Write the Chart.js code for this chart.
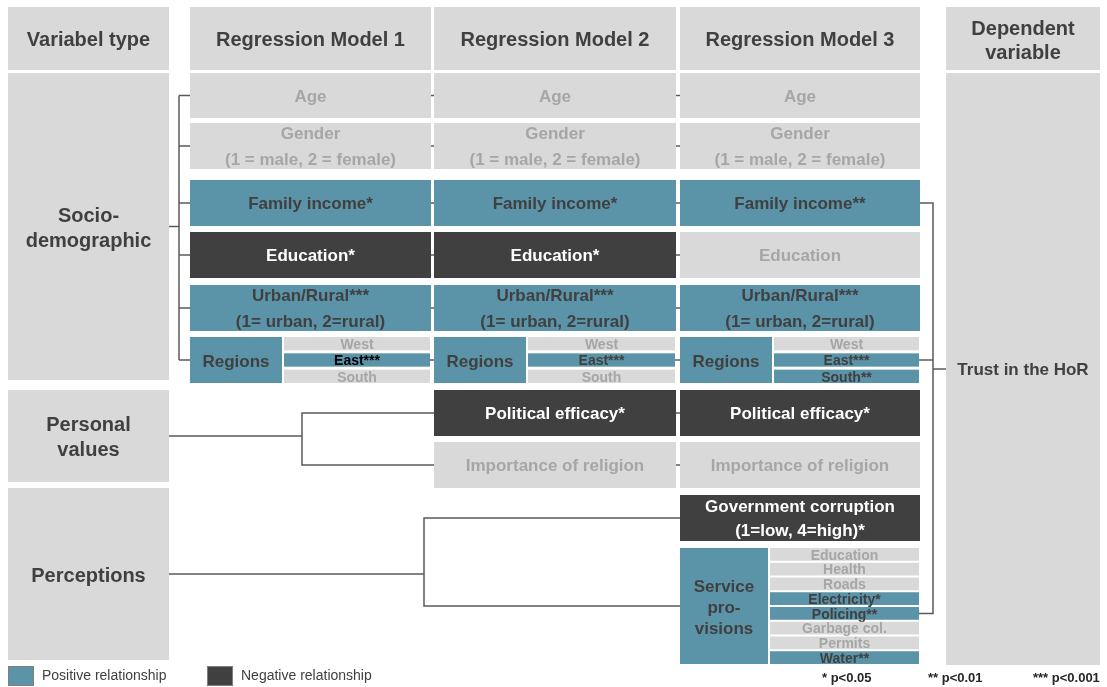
<!DOCTYPE html>
<html>
<head>
<meta charset="utf-8">
<script src="https://cdn.jsdelivr.net/npm/chart.js@4.4.1/dist/chart.umd.min.js"></script>
<style>
  html, body { margin: 0; padding: 0; background: #fff; }
  #wrap { width: 1107px; height: 687px; }
</style>
</head>
<body>
<div id="wrap"><canvas id="diagram"></canvas></div>
<script>
/* Regression models diagram — cells drawn through hidden linear scales */

// ---- data ----
const variableTypes = ['Socio-\ndemographic', 'Personal\nvalues', 'Perceptions'];
const modelNames = ['Regression Model 1', 'Regression Model 2', 'Regression Model 3'];
const dependentHeader = 'Dependent\nvariable';
const dependentVariable = 'Trust in the HoR';

// {s} marks where the significance stars go
const variables = [
  'Age',
  'Gender\n(1 = male, 2 = female)',
  'Family income{s}',
  'Education{s}',
  'Urban/Rural{s}\n(1= urban, 2=rural)',
  'Regions',
  'Political efficacy{s}',
  'Importance of religion',
  'Government corruption\n(1=low, 4=high){s}',
  'Service\npro-\nvisions',
];

// effect: 1 = positive, -1 = negative, 0 = not significant, null = not in model
const effectModel1 = [0, 0, 1, -1, 1, 1, null, null, null, null];
const starsModel1  = [0, 0, 1, 1, 3, 0, 0, 0, 0, 0];
const effectModel2 = [0, 0, 1, -1, 1, 1, -1, 0, null, null];
const starsModel2  = [0, 0, 1, 1, 3, 0, 1, 0, 0, 0];
const effectModel3 = [0, 0, 1, 0, 1, 1, -1, 0, -1, 1];
const starsModel3  = [0, 0, 2, 0, 3, 0, 1, 0, 1, 0];

const regions = ['West', 'East', 'South'];
const regionEffectModel1 = [0, 1, 0];
const regionStarsModel1  = [0, 3, 0];
const regionEffectModel2 = [0, 1, 0];
const regionStarsModel2  = [0, 3, 0];
const regionEffectModel3 = [0, 1, 1];
const regionStarsModel3  = [0, 3, 2];

const services = ['Education', 'Health', 'Roads', 'Electricity', 'Policing', 'Garbage col.', 'Permits', 'Water'];
const serviceEffectModel3 = [0, 0, 0, 1, 1, 0, 0, 1];
const serviceStarsModel3  = [0, 0, 0, 1, 2, 0, 0, 2];

const legendLabels = ['Positive relationship', 'Negative relationship'];
const significanceLabels = ['* p<0.05', '** p<0.01', '*** p<0.001'];

// ---- layout (diagram units) ----
const HEADER = [7, 70];
const TYPE_COL = [8, 169];
const MODEL_COLS = [[190, 431], [434, 676], [680, 920]];
const DEP_COL = [946, 1100];
const DEP_BODY = [73, 665];
const ROWS = [[73, 118], [123, 169], [180, 226], [232, 278], [285, 331], [337, 383],
              [390, 436], [442, 488], [495, 541], [548, 664]];
const TYPE_ROWS = [[73, 380], [390, 482], [488, 660]];

const COLORS = {
  pos: '#5B93A8', neg: '#404040', ns: '#D9D9D9',
  text: '#404040', nsText: '#A6A6A6', line: '#5A5A5A',
};
const FONT = '"Liberation Sans", Arial, sans-serif';

const models = [
  { effect: effectModel1, stars: starsModel1, regEff: regionEffectModel1, regStars: regionStarsModel1 },
  { effect: effectModel2, stars: starsModel2, regEff: regionEffectModel2, regStars: regionStarsModel2 },
  { effect: effectModel3, stars: starsModel3, regEff: regionEffectModel3, regStars: regionStarsModel3,
    svcEff: serviceEffectModel3, svcStars: serviceStarsModel3 },
];

function styleFor(effect) {
  if (effect === 1) return { fill: COLORS.pos, color: COLORS.text };
  if (effect === -1) return { fill: COLORS.neg, color: '#fff' };
  return { fill: COLORS.ns, color: COLORS.nsText };
}

function subRows(top, bottom, n, gap) {
  const h = (bottom - top - gap * (n - 1)) / n;
  return Array.from({ length: n }, (_, i) => [top + i * (h + gap), top + i * (h + gap) + h]);
}

const diagramPlugin = {
  id: 'diagram',
  afterDatasetsDraw(chart) {
    const { ctx } = chart;
    const sx = chart.scales.x, sy = chart.scales.y;
    const px = v => sx.getPixelForValue(v);
    const py = v => sy.getPixelForValue(v);
    const mid = r => (r[0] + r[1]) / 2;

    const rect = (x0, x1, y0, y1, fill) => {
      ctx.fillStyle = fill;
      ctx.fillRect(px(x0), py(y0), px(x1) - px(x0), py(y1) - py(y0));
    };
    const text = (str, x, y, size, color, lh, weight = 'bold') => {
      const lines = str.split('\n');
      ctx.font = `${weight} ${size}px ${FONT}`;
      ctx.fillStyle = color;
      ctx.textAlign = 'center';
      ctx.textBaseline = 'middle';
      lines.forEach((l, i) => {
        ctx.fillText(l, px(x), py(y + (i - (lines.length - 1) / 2) * lh));
      });
    };
    const line = pts => {
      ctx.beginPath();
      pts.forEach(([x, y], i) => (i ? ctx.lineTo(px(x), py(y)) : ctx.moveTo(px(x), py(y))));
      ctx.stroke();
    };

    ctx.save();

    // connectors (drawn first, cells sit on top)
    ctx.strokeStyle = COLORS.line;
    ctx.lineWidth = 1.5;
    const regionRows = subRows(ROWS[5][0], ROWS[5][1], regions.length, 3);
    const serviceRows = subRows(ROWS[9][0], ROWS[9][1], services.length, 2);
    const rowY = i => (i === 5 ? mid(regionRows[1]) : mid(ROWS[i]));

    // model 1 bracket
    const bx = 179;
    line([[bx, mid(ROWS[0])], [bx, rowY(5)]]);
    for (let i = 0; i <= 5; i++) line([[bx, rowY(i)], [MODEL_COLS[0][0] + 2, rowY(i)]]);
    line([[TYPE_COL[1], mid(TYPE_ROWS[0])], [bx, mid(TYPE_ROWS[0])]]);

    // ticks between neighbouring models
    for (let m = 0; m < 2; m++) {
      variables.forEach((_, i) => {
        if (models[m].effect[i] !== null && models[m + 1].effect[i] !== null) {
          line([[MODEL_COLS[m][1] - 3, rowY(i)], [MODEL_COLS[m + 1][0] + 3, rowY(i)]]);
        }
      });
    }

    // personal values bracket
    const pvx = 302;
    line([[TYPE_COL[1], mid(TYPE_ROWS[1])], [pvx, mid(TYPE_ROWS[1])]]);
    line([[MODEL_COLS[1][0] + 2, mid(ROWS[6])], [pvx, mid(ROWS[6])], [pvx, mid(ROWS[7])], [MODEL_COLS[1][0] + 2, mid(ROWS[7])]]);

    // perceptions bracket
    const pcx = 424;
    line([[TYPE_COL[1], mid(TYPE_ROWS[2])], [pcx, mid(TYPE_ROWS[2])]]);
    line([[MODEL_COLS[2][0] + 2, mid(ROWS[8])], [pcx, mid(ROWS[8])], [pcx, mid(ROWS[9])], [MODEL_COLS[2][0] + 2, mid(ROWS[9])]]);

    // bracket to the dependent variable
    const dx = 933;
    const yTop = mid(ROWS[2]), yBot = mid(serviceRows[4]);
    line([[MODEL_COLS[2][1] - 2, yTop], [dx, yTop], [dx, yBot], [MODEL_COLS[2][1] - 2, yBot]]);
    line([[MODEL_COLS[2][1] - 2, rowY(5)], [dx, rowY(5)]]);
    line([[dx, mid(DEP_BODY)], [DEP_COL[0] + 2, mid(DEP_BODY)]]);

    // header row
    rect(TYPE_COL[0], TYPE_COL[1], HEADER[0], HEADER[1], COLORS.ns);
    text('Variabel type', mid(TYPE_COL), mid(HEADER) + 2, 20, COLORS.text, 24);
    MODEL_COLS.forEach((c, m) => {
      rect(c[0], c[1], HEADER[0], HEADER[1], COLORS.ns);
      text(modelNames[m], mid(c), mid(HEADER) + 2, 20, COLORS.text, 24);
    });
    rect(DEP_COL[0], DEP_COL[1], HEADER[0], HEADER[1], COLORS.ns);
    text(dependentHeader, mid(DEP_COL), mid(HEADER) + 3, 20, COLORS.text, 24);

    // variable type column
    TYPE_ROWS.forEach((r, i) => {
      rect(TYPE_COL[0], TYPE_COL[1], r[0], r[1], COLORS.ns);
      text(variableTypes[i], mid(TYPE_COL), mid(r) + 2, 20, COLORS.text, 25);
    });

    // dependent variable column
    rect(DEP_COL[0], DEP_COL[1], DEP_BODY[0], DEP_BODY[1], COLORS.ns);
    text(dependentVariable, mid(DEP_COL), mid(DEP_BODY) + 1, 17, COLORS.text, 24);

    // model cells
    models.forEach((mod, m) => {
      const [c0, c1] = MODEL_COLS[m];
      variables.forEach((label, i) => {
        const eff = mod.effect[i];
        if (eff === null) return;
        const r = ROWS[i];
        if (i === 5 || i === 9) {
          // grouped variable: label box plus one strip per category
          const isReg = i === 5;
          const boxW = isReg ? 92 : 88;
          const items = isReg ? regions : services;
          const subs = isReg ? regionRows : serviceRows;
          const effs = isReg ? mod.regEff : mod.svcEff;
          const stars = isReg ? mod.regStars : mod.svcStars;
          const st = styleFor(eff);
          rect(c0, c0 + boxW, r[0], r[1], st.fill);
          text(label, c0 + boxW / 2, mid(r) + 2, 17, st.color, 21);
          items.forEach((name, k) => {
            const s = styleFor(effs[k]);
            const sr = subs[k];
            rect(c0 + boxW + 2, c1 - 1, sr[0], sr[1], s.fill);
            const col = (m === 0 && effs[k] === 1) ? '#000' : s.color;
            text(name + '*'.repeat(stars[k]), (c0 + boxW + 2 + c1 - 1) / 2, mid(sr) + 1.5, 14, col, 14);
          });
          return;
        }
        const st = styleFor(eff);
        rect(c0, c1, r[0], r[1], st.fill);
        const str = label.replace('{s}', '*'.repeat(mod.stars[i]));
        text(str, mid([c0, c1]), mid(r) + 1.5, 17, st.color, i === 8 ? 24 : 25.5);
      });
    });

    // legend
    [COLORS.pos, COLORS.neg].forEach((col, i) => {
      const x0 = i === 0 ? 8 : 207;
      rect(x0, x0 + 26, 666, 686, col);
      ctx.strokeStyle = '#7F7F7F';
      ctx.lineWidth = 1;
      ctx.strokeRect(px(x0) + 0.5, py(666) + 0.5, px(x0 + 26) - px(x0) - 1, py(686) - py(666) - 1);
      ctx.font = `14px ${FONT}`;
      ctx.fillStyle = COLORS.text;
      ctx.textAlign = 'left';
      ctx.textBaseline = 'middle';
      ctx.fillText(legendLabels[i], px(x0 + 34), py(676));
    });
    ctx.font = `bold 13px ${FONT}`;
    ctx.fillStyle = '#262626';
    [822, 928, 1033].forEach((x, i) => ctx.fillText(significanceLabels[i], px(x), py(678)));

    ctx.restore();
  },
};

new Chart(document.getElementById('diagram'), {
  type: 'scatter',
  data: { datasets: [{ data: [] }] },
  options: {
    responsive: true,
    maintainAspectRatio: false,
    animation: false,
    layout: { padding: 0 },
    plugins: { legend: { display: false }, tooltip: { enabled: false } },
    scales: {
      x: { type: 'linear', min: 0, max: 1107, display: false },
      y: { type: 'linear', min: 0, max: 687, reverse: true, display: false },
    },
  },
  plugins: [diagramPlugin],
});
</script>
</body>
</html>
